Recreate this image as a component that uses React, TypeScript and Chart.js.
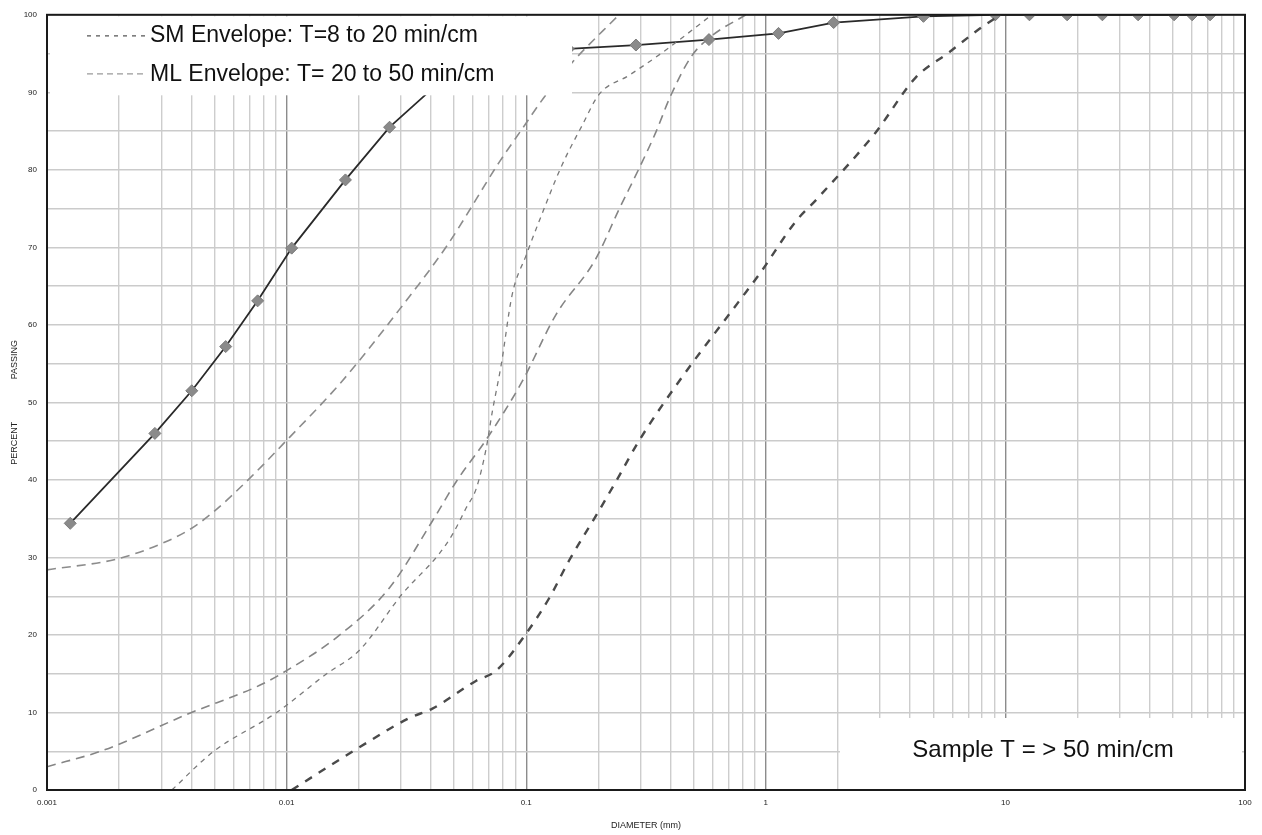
import { useEffect, useRef } from 'react';
import { Chart, registerables } from 'chart.js';

Chart.register(...registerables);

// ---------- data (diameter in mm, percent passing) ----------
const sampleDiameter = [0.00125, 0.00282, 0.00402, 0.00557, 0.00757, 0.0105, 0.0176, 0.0269, 0.048, 0.075, 0.15, 0.287, 0.579, 1.13, 1.92, 4.55, 9.08, 12.6, 18.1, 25.4, 35.8, 50.6, 60.2, 71.5];
const samplePassing = [34.4, 46.0, 51.5, 57.2, 63.1, 69.9, 78.7, 85.5, 92.5, 94.3, 95.6, 96.1, 96.8, 97.6, 99.0, 99.8, 100, 100, 100, 100, 100, 100, 100, 100];

const mlUpperDiameter = [0.001, 0.00196, 0.00296, 0.00394, 0.00492, 0.00701, 0.01, 0.017, 0.0296, 0.0469, 0.0772, 0.0953, 0.121, 0.155, 0.244];
const mlUpperPassing = [28.4, 29.8, 31.7, 33.6, 35.8, 40.2, 45.1, 52.7, 62.0, 70.3, 81.0, 85.1, 89.7, 93.8, 100];

const mlLowerDiameter = [0.001, 0.00171, 0.00394, 0.00772, 0.01, 0.0162, 0.0269, 0.0406, 0.0511, 0.0688, 0.0962, 0.133, 0.195, 0.244, 0.295, 0.347, 0.40, 0.491, 0.596, 0.826];
const mlLowerPassing = [3.0, 5.1, 9.9, 13.5, 15.4, 19.7, 26.1, 34.7, 39.8, 45.4, 52.7, 61.3, 68.5, 74.9, 80.1, 84.8, 89.5, 94.7, 97.3, 100];

const smUpperDiameter = [0.00332, 0.00492, 0.00909, 0.0147, 0.0201, 0.0304, 0.0434, 0.0493, 0.0562, 0.0619, 0.0681, 0.0722, 0.0787, 0.0874, 0.1, 0.113, 0.141, 0.171, 0.201, 0.269, 0.369, 0.596];
const smUpperPassing = [0, 4.9, 10.0, 15.0, 18.0, 25.3, 30.5, 33.0, 36.4, 38.9, 44.1, 48.8, 54.9, 63.9, 69.0, 73.3, 80.6, 85.7, 89.7, 92.2, 95.1, 100];

const smLowerDiameter = [0.0105, 0.0201, 0.0326, 0.0406, 0.0619, 0.075, 0.1, 0.125, 0.151, 0.201, 0.244, 0.295, 0.434, 0.771, 0.953, 1.33, 1.63, 2.87, 4.22, 5.79, 7.72, 9.5];
const smLowerPassing = [0, 5.5, 9.3, 10.5, 14.1, 15.4, 20.2, 24.8, 29.6, 36.0, 40.5, 45.0, 52.7, 63.0, 66.8, 73.3, 76.2, 84.8, 91.9, 95.1, 98.1, 100];

const decadeValues = [0.001, 0.01, 0.1, 1, 10, 100];
const decadeLabels = ['0.001', '0.01', '0.1', '1', '10', '100'];
const minorMultipliers = [1, 2, 3, 4, 5, 6, 7, 8, 9];

const legendLabels = ['SM Envelope: T=8 to 20 min/cm', 'ML Envelope: T= 20 to 50 min/cm'];
const noteLabel = 'Sample T = > 50 min/cm';
const xTitle = 'DIAMETER (mm)';
const yTitle = 'PERCENT' + '\u00a0'.repeat(17) + 'PASSING';

const toPoints = (xs: number[], ys: number[]) => xs.map((x, i) => ({ x, y: ys[i] }));

const xTickValues: number[] = [];
for (let d = 0; d < decadeValues.length - 1; d++) {
  for (const m of minorMultipliers) {
    xTickValues.push(parseFloat((m * decadeValues[d]).toPrecision(6)));
  }
}
xTickValues.push(decadeValues[decadeValues.length - 1]);

const isDecade = (v: number) => decadeValues.some((d) => Math.abs(v - d) / d < 1e-6);
const FONT = "'Liberation Sans', Arial, sans-serif";

const overlayPlugin = {
  id: 'overlays',
  afterDatasetsDraw(chart: any) {
    const { ctx, chartArea: a } = chart;
    ctx.save();
    // legend box (white, covers grid and curves)
    const lx = a.left + 3;
    const ly = a.top + 1.5;
    ctx.fillStyle = '#ffffff';
    ctx.fillRect(lx, ly, 522, 79);
    // legend samples
    ctx.lineWidth = 1.3;
    ctx.strokeStyle = '#555555';
    ctx.setLineDash([4, 5]);
    ctx.beginPath();
    ctx.moveTo(a.left + 40, a.top + 21);
    ctx.lineTo(a.left + 98, a.top + 21);
    ctx.stroke();
    ctx.strokeStyle = '#9a9a9a';
    ctx.setLineDash([6, 4]);
    ctx.beginPath();
    ctx.moveTo(a.left + 40, a.top + 59);
    ctx.lineTo(a.left + 98, a.top + 59);
    ctx.stroke();
    ctx.setLineDash([]);
    ctx.fillStyle = '#111111';
    ctx.font = `23px ${FONT}`;
    ctx.textBaseline = 'alphabetic';
    ctx.textAlign = 'left';
    ctx.fillText(legendLabels[0], a.left + 103, a.top + 27);
    ctx.fillText(legendLabels[1], a.left + 103, a.top + 66);

    // note box at bottom right
    ctx.fillStyle = '#ffffff';
    ctx.fillRect(a.right - 405, a.bottom - 72, 402, 71);
    ctx.fillStyle = '#111111';
    ctx.font = `24px ${FONT}`;
    ctx.textAlign = 'center';
    ctx.fillText(noteLabel, a.right - 202, a.bottom - 33);

    // frame
    ctx.strokeStyle = '#1a1a1a';
    ctx.lineWidth = 2;
    ctx.strokeRect(a.left, a.top, a.right - a.left, a.bottom - a.top);
    ctx.restore();
  },
};

export default function App() {
  const canvasRef = useRef<HTMLCanvasElement | null>(null);

  useEffect(() => {
    document.body.style.margin = '0';
    const canvas = canvasRef.current;
    if (!canvas) return;
    const chart = new Chart(canvas, {
      type: 'line',
      data: {
        datasets: [
          {
            label: 'ML upper',
            data: toPoints(mlUpperDiameter, mlUpperPassing),
            borderColor: '#8c8c8c',
            borderWidth: 1.6,
            borderDash: [9, 6],
            pointRadius: 0,
            cubicInterpolationMode: 'monotone',
          },
          {
            label: 'ML lower',
            data: toPoints(mlLowerDiameter, mlLowerPassing),
            borderColor: '#858585',
            borderWidth: 1.6,
            borderDash: [9, 6],
            pointRadius: 0,
            cubicInterpolationMode: 'monotone',
          },
          {
            label: 'SM upper',
            data: toPoints(smUpperDiameter, smUpperPassing),
            borderColor: '#7a7a7a',
            borderWidth: 1.3,
            borderDash: [5, 5],
            pointRadius: 0,
            cubicInterpolationMode: 'monotone',
          },
          {
            label: 'SM lower',
            data: toPoints(smLowerDiameter, smLowerPassing),
            borderColor: '#4a4a4a',
            borderWidth: 2.4,
            borderDash: [8, 8],
            pointRadius: 0,
            cubicInterpolationMode: 'monotone',
          },
          {
            label: 'Sample',
            data: toPoints(sampleDiameter, samplePassing),
            borderColor: '#2a2a2a',
            borderWidth: 1.8,
            pointStyle: 'rectRot',
            pointRadius: 6,
            pointBackgroundColor: '#8a8a8a',
            pointBorderColor: '#7a7a7a',
            pointBorderWidth: 1,
            tension: 0,
          },
        ],
      },
      options: {
        animation: false,
        responsive: false,
        events: [],
        layout: { padding: { left: 0, right: 17, top: 12.5, bottom: 0 } },
        plugins: { legend: { display: false }, tooltip: { enabled: false } },
        scales: {
          x: {
            type: 'logarithmic',
            min: 0.001,
            max: 100,
            afterBuildTicks: (scale: any) => {
              scale.ticks = xTickValues.map((v) => ({ value: v }));
            },
            afterFit: (scale: any) => {
              scale.height = 45;
            },
            ticks: {
              autoSkip: false,
              maxRotation: 0,
              padding: 8,
              color: '#222',
              font: { size: 8, family: FONT },
              callback: (value: any) => {
                const v = Number(value);
                const i = decadeValues.findIndex((d) => Math.abs(v - d) / d < 1e-6);
                return i >= 0 ? decadeLabels[i] : '';
              },
            },
            grid: {
              drawTicks: false,
              lineWidth: 1.4,
              color: (ctx: any) => (ctx.tick && isDecade(ctx.tick.value) ? '#8c8c8c' : '#cdcdcd'),
            },
            border: { display: false },
            title: {
              display: true,
              text: xTitle,
              color: '#222',
              font: { size: 9, family: FONT },
              padding: { top: 0, bottom: 4 },
            },
          },
          y: {
            type: 'linear',
            min: 0,
            max: 100,
            afterFit: (scale: any) => {
              scale.width = 47;
            },
            ticks: {
              stepSize: 5,
              autoSkip: false,
              padding: 10,
              color: '#222',
              font: { size: 8, family: FONT },
              callback: (value: any) => (Number(value) % 10 === 0 ? String(value) : ''),
            },
            grid: {
              drawTicks: false,
              lineWidth: 1.4,
              color: '#cbcbcb',
            },
            border: { display: false },
            title: {
              display: true,
              text: yTitle,
              color: '#222',
              font: { size: 9, family: FONT },
              padding: { top: 9, bottom: 0 },
            },
          },
        },
      },
      plugins: [overlayPlugin],
    });
    return () => chart.destroy();
  }, []);

  return (
    <div style={{ width: 1262, height: 835, background: '#ffffff' }}>
      <canvas ref={canvasRef} width={1262} height={835} style={{ display: 'block' }} />
    </div>
  );
}
